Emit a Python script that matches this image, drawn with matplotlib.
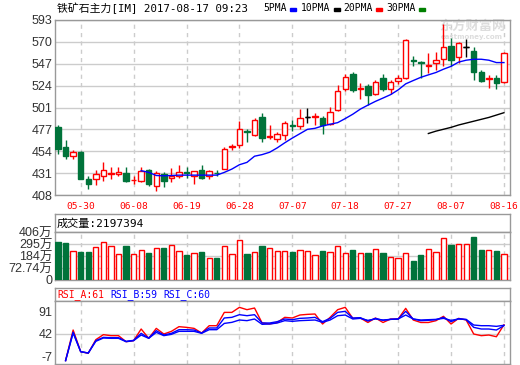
import numpy as np
import matplotlib
matplotlib.use('Agg')
import matplotlib.pyplot as plt
from matplotlib.patches import Rectangle

plt.rcParams['font.family'] = ['DejaVu Sans', 'Noto Sans CJK SC']

# ---- data ----
tick_labels = ['05-30', '06-08', '06-19', '06-28', '07-07', '07-18', '07-27', '08-07', '08-16']
tick_idx = [3, 10, 17, 24, 31, 38, 45, 52, 59]

opens = [480.3, 458.6, 449.0, 453.9, 425.1, 424.7, 427.6, 430.6, 430.5, 431.1,
         423.6, 423.3, 434.7, 417.6, 430.0, 426.2, 428.3, 432.0, 428.6, 434.3,
         428.6, 431.5, 435.4, 458.4, 460.7, 475.5, 471.0, 490.3, 468.9, 467.1,
         471.4, 482.0, 480.9, 490.4, 490.8, 489.4, 483.4, 498.2, 519.8, 536.4,
         520.5, 523.3, 515.2, 531.8, 519.8, 528.0, 531.9, 550.2, 548.5, 544.0,
         547.5, 552.0, 565.8, 553.4, 564.8, 560.6, 538.1, 531.0, 531.5, 527.4]
highs = [482.0, 465.7, 456.0, 454.6, 427.6, 434.7, 442.9, 437.5, 437.5, 437.2,
         428.3, 437.5, 435.4, 432.9, 431.9, 436.5, 440.0, 437.5, 432.9, 439.3,
         434.7, 434.7, 458.9, 462.1, 486.3, 477.4, 489.2, 494.6, 482.1, 474.3,
         486.4, 487.6, 499.3, 500.3, 495.0, 491.1, 501.0, 524.7, 536.4, 538.2,
         526.5, 525.8, 529.3, 536.4, 529.3, 534.5, 572.8, 555.4, 549.9, 557.9,
         559.6, 589.0, 574.2, 570.0, 572.8, 564.8, 540.5, 535.3, 535.3, 558.9]
lows = [451.8, 446.4, 446.0, 424.4, 414.4, 418.7, 423.3, 424.7, 427.6, 422.2,
        419.7, 422.2, 418.0, 412.6, 416.9, 422.2, 425.8, 425.8, 419.7, 425.1,
        425.1, 428.6, 435.4, 456.0, 457.8, 464.3, 470.3, 463.6, 467.1, 464.3,
        466.1, 475.2, 478.0, 484.4, 482.3, 472.7, 482.3, 496.4, 517.7, 517.0,
        509.9, 502.8, 513.4, 517.7, 515.2, 525.0, 530.8, 544.0, 531.9, 537.0,
        540.5, 544.0, 544.0, 547.5, 554.4, 529.1, 527.0, 520.8, 519.7, 526.7]
closes = [456.8, 449.0, 453.9, 425.1, 420.1, 430.1, 434.3, 431.6, 432.0, 423.3,
          424.3, 432.9, 419.4, 431.1, 423.3, 427.6, 432.2, 431.0, 432.9, 426.5,
          432.9, 430.8, 457.1, 459.4, 477.4, 474.6, 487.4, 467.9, 470.3, 472.1,
          483.9, 481.0, 489.4, 490.4, 491.6, 482.3, 495.7, 518.0, 532.9, 518.7,
          521.2, 513.4, 527.6, 519.8, 527.9, 531.2, 571.7, 549.5, 547.1, 545.7,
          550.2, 564.8, 550.9, 568.3, 564.8, 538.1, 528.4, 531.7, 526.3, 557.9]

# blue average line starts at bar 11, black one at bar 49
blue_start = 11
blue_ma = [433.7, 431.9, 428.6, 428.3, 428.6, 429.0, 429.0, 429.0, 429.0, 429.0,
           429.0, 431.9, 435.4, 440.0, 442.5, 449.0, 450.7, 453.2, 457.8, 463.2,
           468.2, 472.8, 477.4, 478.5, 481.0, 482.8, 484.5, 488.8, 493.4, 498.8,
           503.0, 507.0, 510.5, 514.1, 519.1, 525.5, 529.0, 532.4, 535.0, 537.5,
           541.0, 544.0, 548.5, 550.5, 551.5, 551.5, 550.5, 548.0, 548.0]
black_start = 49
black_ma = [473.0, 475.5, 477.5, 479.5, 482.0, 484.0, 486.0, 488.0, 490.0, 492.5, 495.0]

# volume in 万
volume = [323.7, 315, 244, 238, 238, 278, 321, 287, 219, 290,
          219, 253, 230, 270, 273, 295, 244, 213, 227, 236,
          185, 190, 287, 219, 341, 221, 236, 290, 270, 244,
          244, 238, 253, 244, 210, 247, 236, 287, 227, 256,
          227, 227, 261, 227, 193, 185, 227, 162, 213, 261,
          236, 355, 298, 304, 304, 366, 256, 253, 247, 219.7]
vol_max = 406
vol_labels = ['0', '72.74万', '184万', '295万', '406万']

# RSI lines start at bar 1
rsi_start = 1
rsi_a = [-17, 49.6, 2.4, -1, 28.6, 39.5, 37.3, 37.3, 24.2, 26.4,
         51.8, 31.5, 53.2, 40.9, 46.7, 56.9, 55.4, 53.2, 43.1, 59,
         59, 88, 88, 99, 93.9, 97.5, 65, 62.7, 66, 77.2,
         75.8, 82.3, 83.7, 84.5, 62.7, 77.2, 93.9, 99, 75, 75.8,
         66, 75.8, 66, 73.6, 73.6, 96.8, 71.4, 66, 66, 69.9,
         79.4, 62.7, 75, 71.4, 40.9, 37.3, 38.7, 35, 61]
rsi_b = [-17, 45, 2.4, -0.5, 26.4, 33.6, 32.9, 32.9, 24.9, 27.1,
         42.4, 32.2, 48.2, 38.7, 42.4, 50.3, 50.3, 49.6, 43.1, 54,
         54, 75.8, 77.2, 83, 80.8, 83, 65, 64.9, 67.8, 73.6,
         72.1, 75, 75.8, 77.2, 67.8, 75, 88.1, 90.3, 75.8, 76.5,
         69.2, 75, 70.7, 72.8, 73.6, 90.3, 73.6, 70, 70.7, 72.1,
         77.2, 67.8, 74.3, 72.1, 55.4, 51.8, 51.8, 49.6, 59]
rsi_c = [-17, 43, 2.4, -0.5, 25, 32.2, 31.5, 31.5, 24.2, 26.4,
         38.7, 31.5, 44.5, 37.3, 40.2, 46.7, 46.7, 46.7, 42.4, 50.3,
         50.3, 64, 66.3, 71.4, 70, 73.6, 62, 62.7, 64.9, 70,
         68.5, 70, 70.7, 71.4, 66.3, 71.4, 80.8, 82.3, 73.6, 75,
         70.7, 73.6, 71.4, 72.8, 73.6, 82.3, 73.6, 71.4, 72.1, 72.8,
         75, 70.7, 73.6, 72.8, 60.5, 59, 59, 57.6, 60]

RED = '#ff0000'
GREEN = '#00733a'
GRID = '#cccccc'
BORDER = '#999999'
W, H = 520, 365

fig = plt.figure(figsize=(W / 100, H / 100), dpi=100)


def px_axes(x0, y0, x1, y1):
    return fig.add_axes([x0 / W, 1 - y1 / H, (x1 - x0) / W, (y1 - y0) / H])


def style(ax):
    for s in ax.spines.values():
        s.set_color(BORDER)
        s.set_linewidth(1)
    ax.tick_params(length=0, colors='#333333', labelsize=9, pad=2)


def vgrid(ax):
    for t in tick_idx:
        ax.axvline(t, color=GRID, lw=1, ls=(0, (3, 3)), zorder=0)


n = len(closes)
x = np.arange(n)
o = np.array(opens)
c = np.array(closes)
xlim = (-0.4, 59.8)

# ---- price panel ----
ax = px_axes(55, 20, 510, 195)
style(ax)
ax.set_xlim(*xlim)
ax.set_ylim(408, 593)
yt = np.linspace(408, 593, 9)
ax.set_yticks(yt)
ax.set_yticklabels([str(int(v + 0.5)) for v in yt], family='Liberation Sans')
ax.yaxis.grid(True, color=GRID, lw=1, zorder=0)
vgrid(ax)
ax.set_xticks(tick_idx)
ax.set_xticklabels(tick_labels, color=RED, fontsize=6.8, family='DejaVu Sans Mono')
ax.tick_params(axis='x', pad=5)

cols = np.where(c > o, RED, np.where(c < o, GREEN, 'black'))
faces = np.where(c > o, 'white', np.where(c < o, GREEN, 'black'))
ax.vlines(x, lows, highs, colors=cols, lw=1, zorder=2)
ax.bar(x, np.abs(c - o), bottom=np.minimum(o, c), width=0.72,
       facecolor=faces, edgecolor=cols, lw=1, zorder=3)
flat = np.abs(c - o) < 0.6
ax.hlines(c[flat], x[flat] - 0.36, x[flat] + 0.36, colors=cols[flat], lw=1, zorder=4)

ax.plot(x[blue_start:], blue_ma, color='blue', lw=1, zorder=4)
ax.plot(x[black_start:], black_ma, color='black', lw=1, zorder=4)

# watermark
ax.text(472 / W, 1 - 26 / H, '东方财富网', transform=fig.transFigure, color='#dddddd',
        fontsize=9.5, weight='bold', ha='center', va='center', family='Noto Sans CJK SC', zorder=1)
ax.text(472 / W, 1 - 37 / H, 'eastmoney.com', transform=fig.transFigure, color='#dddddd',
        fontsize=5, weight='bold', ha='center', va='center', zorder=1)

# header
fig.text(57 / W, 1 - 8 / H, '铁矿石主力[IM] 2017-08-17 09:23', fontsize=7.8, va='center',
         family=['DejaVu Sans Mono', 'Noto Sans CJK SC'])
leg_names = ['5PMA', '10PMA', '20PMA', '30PMA']
leg_colors = ['blue', 'black', 'red', 'green']
leg_x = [263, 301, 343, 386]
for name, col, lx in zip(leg_names, leg_colors, leg_x):
    fig.text(lx / W, 1 - 8 / H, name, fontsize=7, va='center', family='DejaVu Sans Mono')
    bx = lx + 6 * len(name) + 3
    fig.patches.append(Rectangle((bx / W, 1 - 11 / H), 6 / W, 3 / H,
                                 transform=fig.transFigure, color=col))

# ---- volume panel ----
vh = px_axes(55, 214.3, 510, 232.3)
style(vh)
vh.set_xticks([])
vh.set_yticks([])
vh.text(2 / 455, 0.5, '成交量:2197394', transform=vh.transAxes, fontsize=8, va='center',
        family=['DejaVu Sans Mono', 'Noto Sans CJK SC'])

vax = px_axes(55, 232.3, 510, 280)
style(vax)
vax.set_xlim(*xlim)
vax.set_ylim(0, vol_max)
vt = np.linspace(0, vol_max, 5)
vax.set_yticks(vt)
vax.set_yticklabels(vol_labels, family=['Liberation Sans', 'Noto Sans CJK SC'])
vax.yaxis.grid(True, color=GRID, lw=1, zorder=0)
vax.set_xticks([])
vgrid(vax)
up = c >= o
vax.bar(x, volume, width=0.7, facecolor=np.where(up, 'white', GREEN),
        edgecolor=np.where(up, RED, GREEN), lw=1, zorder=3)

# ---- RSI panel ----
rh = px_axes(55, 287.7, 510, 301)
style(rh)
rh.set_xticks([])
rh.set_yticks([])
rsi_text = [('RSI_A:61', RED, 57), ('RSI_B:59', 'blue', 110), ('RSI_C:60', 'blue', 163)]
for txt, col, tx in rsi_text:
    fig.text(tx / W, 1 - 294.5 / H, txt, color=col, fontsize=7, va='center',
             family='DejaVu Sans Mono')

rax = px_axes(55, 301, 510, 364)
style(rax)
rax.set_xlim(*xlim)
rax.set_ylim(-24.4, 112.8)
rax.set_yticks([-7, 42, 91])
rax.set_yticklabels(['-7', '42', '91'], family='Liberation Sans')
rax.axhline(42, color=GRID, lw=1, zorder=0)
rax.set_xticks([])
vgrid(rax)
xr = x[rsi_start:]
rax.plot(xr, rsi_a, color=RED, lw=1, zorder=3)
rax.plot(xr, rsi_b, color='blue', lw=1, zorder=3)
rax.plot(xr, rsi_c, color='blue', lw=1, zorder=3)

fig.savefig('out.png', dpi=100, facecolor='white')
